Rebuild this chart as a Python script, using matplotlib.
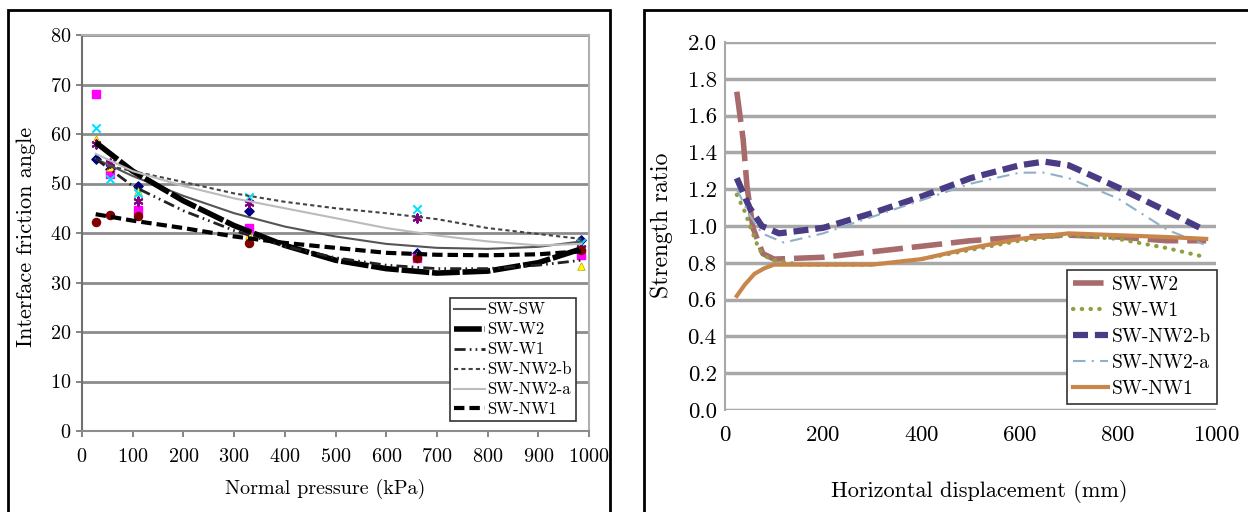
import matplotlib
matplotlib.use("Agg")
import matplotlib.pyplot as plt
from matplotlib.patches import Rectangle

plt.rcParams['font.family'] = ['cmr10', 'DejaVu Serif']
plt.rcParams['mathtext.fontset'] = 'cm'
plt.rcParams['axes.formatter.use_mathtext'] = True

# ---- left chart: interface friction angle vs normal pressure ----
pressure = [27, 55, 110, 330, 660, 985]
pts_sw_sw = [55.0, 53.0, 49.5, 44.5, 36.0, 38.6]
pts_sw_w2 = [68.0, 52.0, 44.6, 41.0, 35.0, 35.5]
pts_sw_w1 = [59.0, 53.3, 48.5, 39.5, 35.5, 33.3]
pts_sw_nw2b = [61.2, 51.0, 48.0, 47.2, 44.8, 38.0]
pts_sw_nw2a = [58.0, 54.2, 46.5, 46.0, 43.0, 37.0]
pts_sw_nw1 = [42.2, 43.6, 43.4, 38.0, 35.0, 36.5]

fit_x = [27, 100, 200, 300, 400, 500, 600, 700, 800, 900, 985]
fit_sw_sw = [55.0, 51.5, 47.5, 44.0, 41.3, 39.3, 37.8, 37.0, 36.8, 37.2, 38.3]
fit_sw_w2 = [58.3, 52.5, 46.5, 41.5, 37.5, 34.5, 32.8, 31.9, 32.3, 34.0, 36.8]
fit_sw_w1 = [55.0, 49.5, 44.5, 40.5, 37.3, 35.0, 33.5, 32.8, 32.8, 33.5, 34.5]
fit_nw2b_x = [55, 100, 200, 300, 400, 500, 600, 700, 800, 900, 985]
fit_sw_nw2b = [53.5, 52.5, 50.3, 48.0, 46.3, 45.0, 44.0, 42.8, 41.0, 39.8, 38.8]
fit_sw_nw2a = [56.0, 52.5, 49.5, 47.0, 45.0, 43.0, 41.0, 39.5, 38.3, 37.5, 37.8]
fit_sw_nw1 = [43.8, 42.5, 41.0, 39.3, 38.0, 37.0, 36.0, 35.6, 35.5, 35.7, 36.3]

# ---- right chart: strength ratio vs horizontal displacement ----
w2_x = [24, 37, 45, 57, 77, 100, 200, 300, 400, 500, 600, 700, 800, 900, 980]
w2_y = [1.73, 1.47, 1.21, 0.99, 0.85, 0.82, 0.83, 0.86, 0.89, 0.92, 0.94, 0.95, 0.94, 0.92, 0.92]
w1_x = [24, 40, 55, 70, 90, 150, 200, 300, 400, 500, 600, 700, 800, 900, 980]
w1_y = [1.17, 1.08, 0.97, 0.87, 0.82, 0.79, 0.79, 0.79, 0.82, 0.87, 0.92, 0.95, 0.93, 0.88, 0.83]
nw2b_x = [24, 50, 75, 110, 200, 300, 400, 500, 600, 650, 700, 800, 900, 975]
nw2b_y = [1.26, 1.10, 1.00, 0.96, 0.99, 1.07, 1.16, 1.26, 1.33, 1.35, 1.33, 1.21, 1.08, 0.98]
nw2a_x = [24, 50, 75, 120, 200, 300, 400, 500, 600, 650, 700, 800, 900, 975]
nw2a_y = [1.20, 1.06, 0.96, 0.91, 0.96, 1.05, 1.14, 1.23, 1.29, 1.29, 1.26, 1.15, 0.98, 0.90]
nw1_x = [24, 40, 60, 80, 100, 200, 300, 400, 500, 600, 700, 800, 900, 980]
nw1_y = [0.62, 0.68, 0.74, 0.77, 0.79, 0.79, 0.79, 0.82, 0.88, 0.93, 0.96, 0.95, 0.94, 0.93]

fig = plt.figure(figsize=(12.48, 5.12), dpi=100)

# panel frames
fig.patches.append(Rectangle((8/1248, -0.05), (610-8)/1248, 1.05 - 10/512, transform=fig.transFigure,
                             fill=False, ec='black', lw=2))
fig.patches.append(Rectangle((644/1248, -0.05), 0.5, 1.05 - 10/512, transform=fig.transFigure,
                             fill=False, ec='black', lw=2))

# left
ax1 = fig.add_axes([82/1248, 81/512, 507/1248, 396/512])
ax1.plot(fit_x, fit_sw_sw, color='#555555', lw=1.5, label='SW-SW', zorder=3)
ax1.plot(fit_x, fit_sw_w2, color='black', lw=4, dashes=(5, 0.5), label='SW-W2', zorder=3)
ax1.plot(fit_x, fit_sw_w1, color='#222222', lw=2, dashes=(4, 1.5, 0.6, 1.5, 0.6, 1.5), label='SW-W1', zorder=3)
ax1.plot(fit_nw2b_x, fit_sw_nw2b, color='#444444', lw=1.5, dashes=(2, 1.5), label='SW-NW2-b', zorder=3)
ax1.plot(fit_x, fit_sw_nw2a, color='#bbbbbb', lw=1.5, label='SW-NW2-a', zorder=3)
ax1.plot(fit_x, fit_sw_nw1, color='black', lw=3, dashes=(2.5, 1.2), label='SW-NW1', zorder=3)

ax1.scatter(pressure, pts_sw_sw, marker='D', s=22, color='#000080', zorder=2)
ax1.scatter(pressure, pts_sw_w2, marker='s', s=34, color='#ff00ff', zorder=2)
ax1.scatter(pressure, pts_sw_w1, marker='^', s=30, color='#ffff00', ec='#c0a000', lw=0.5, zorder=2)
ax1.scatter(pressure, pts_sw_nw2b, marker='x', s=36, color='#00e0ff', lw=1.5, zorder=2)
ax1.scatter(pressure, pts_sw_nw2a, marker=(6, 2, 0), s=36, color='#800080', lw=1.5, zorder=2)
ax1.scatter(pressure, pts_sw_nw1, marker='o', s=34, color='#800000', zorder=2)

ax1.set_xlim(0, 1000)
ax1.set_ylim(0, 80)
ax1.set_xticks(range(0, 1001, 100))
ax1.set_yticks(range(0, 81, 10))
ax1.grid(axis='y', color='#8c8c8c', lw=2)
ax1.set_axisbelow(True)
for s in ['top', 'right']:
    ax1.spines[s].set_color('#b0b0b0')
    ax1.spines[s].set_linewidth(1.5)
ax1.spines['left'].set_color('#707070')
ax1.spines['bottom'].set_color('#8c8c8c')
ax1.spines['left'].set_linewidth(1.5)
ax1.spines['bottom'].set_linewidth(1.5)
ax1.tick_params(direction='out', length=4, width=1.2, color='#707070', labelsize=14.5)
ax1.tick_params(axis='x', pad=8)
ax1.tick_params(axis='y', pad=4)
ax1.set_xlabel('Normal pressure (kPa)', fontsize=14.5)
ax1.set_ylabel('Interface friction angle', fontsize=16)
ax1.xaxis.set_label_coords(0.48, -0.122)
ax1.yaxis.set_label_coords(-0.09, 0.49)
leg1 = ax1.legend(loc='upper right', bbox_to_anchor=(0.974, 0.336), borderaxespad=0,
                  fontsize=12, handlelength=1.9, handletextpad=0.1, labelspacing=0.28,
                  borderpad=0.25, fancybox=False, framealpha=1, edgecolor='#333333')
leg1.get_frame().set_linewidth(1.2)

# right
ax2 = fig.add_axes([725/1248, 102/512, 491/1248, 368/512])
ax2.plot(w2_x, w2_y, color='#a86b6b', lw=4, dashes=(5.5, 1.6), label='SW-W2')
ax2.plot(w1_x, w1_y, color='#8ca040', lw=3, dashes=(0.1, 2.0), dash_capstyle='round', label='SW-W1')
ax2.plot(nw2b_x, nw2b_y, color='#4a3c84', lw=4.5, dashes=(2.4, 1.1), label='SW-NW2-b')
ax2.plot(nw2a_x, nw2a_y, color='#8fb0c8', lw=1.5, dashes=(6, 3, 1, 3), label='SW-NW2-a')
ax2.plot(nw1_x, nw1_y, color='#c8864a', lw=3, label='SW-NW1')

ax2.set_xlim(0, 1000)
ax2.set_ylim(0, 2.0)
ax2.set_xticks(range(0, 1001, 200))
ax2.set_yticks([i / 10 for i in range(0, 21, 2)])
ax2.yaxis.set_major_formatter(matplotlib.ticker.FormatStrFormatter('%.1f'))
ax2.grid(axis='y', color='#a8a8a8', lw=2.5)
ax2.set_axisbelow(True)
for s in ['top', 'right', 'bottom']:
    ax2.spines[s].set_visible(False)
ax2.spines['left'].set_color('#a8a8a8')
ax2.spines['left'].set_linewidth(1.5)
ax2.tick_params(length=0, labelsize=16.5)
ax2.tick_params(axis='x', pad=11)
ax2.tick_params(axis='y', pad=6)
ax2.set_xlabel('Horizontal displacement (mm)', fontsize=16)
ax2.set_ylabel('Strength ratio', fontsize=17)
ax2.xaxis.set_label_coords(0.517, -0.19)
ax2.yaxis.set_label_coords(-0.106, 0.503)
leg2 = ax2.legend(loc='lower right', bbox_to_anchor=(1.002, 0.016), borderaxespad=0,
                  fontsize=14, handlelength=1.8, handletextpad=0.2, labelspacing=0.42,
                  borderpad=0.3, fancybox=False, framealpha=1, edgecolor='#333333')
leg2.get_frame().set_linewidth(1.2)

fig.savefig('out.png', dpi=100)
